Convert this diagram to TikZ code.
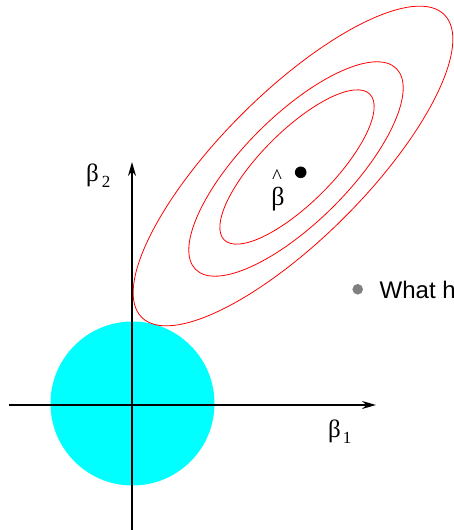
\documentclass[tikz,border=0pt]{standalone}
\usepackage{fontspec}
\setmainfont{Liberation Serif}
\newfontfamily\sansfont{Liberation Sans}
\usetikzlibrary{arrows.meta}
\definecolor{ballcyan}{RGB}{0,255,255}
\definecolor{contourred}{RGB}{255,0,0}
\definecolor{bulletgray}{RGB}{128,128,128}

\begin{document}
\begin{tikzpicture}[
  x=1pt,y=1pt,
  every node/.style={inner sep=0pt},
  axis/.style={-{Stealth[length=14pt,width=8pt]},line width=1.8pt},
  contour/.style={draw=contourred,line width=0.8pt},
  greek/.style={font=\fontsize{25}{30}\selectfont},
  bulletdot/.style={circle,fill=bulletgray,minimum size=10.6pt},
  estdot/.style={circle,fill=black,minimum size=11.6pt}
]
\useasboundingbox (0,0) rectangle (454,530);

% constraint region
\fill[ballcyan] (132.5,126.5) circle [radius=82];

% axes
\coordinate (orig) at (132,125);
\coordinate (xleft) at (9,125);
\coordinate (xright) at (376,125);
\coordinate (ybot) at (132,0);
\coordinate (ytop) at (132,368);
\draw[axis] (xleft) -- (xright);
\draw[axis] (ybot) -- (ytop);

% contours of the RSS
\draw[contour,rotate around={45:(293,364)}] (293,364) ellipse [x radius=214,y radius=72.7];
\draw[contour,rotate around={45:(296,361)}] (296,361) ellipse [x radius=142,y radius=53];
\draw[contour,rotate around={45:(297,363)}] (297,363) ellipse [x radius=103,y radius=36];

% labels
\node[estdot] (est) at (300.7,357.7) {};
\node[font=\fontsize{26}{30}\selectfont,anchor=base] (estbeta) at (278,324.3) {β};
\node[font=\fontsize{21}{24}\selectfont,anchor=base] (esthat) at (277,346.5) {\char94};
\node[greek,anchor=base west] (b2) at (86,348.5) {β\kern3pt\raisebox{-6.5pt}{\fontsize{17}{20}\selectfont 2}};
\node[greek,anchor=base west] (b1) at (328,92.5) {β\kern2pt\raisebox{-6.5pt}{\fontsize{17}{20}\selectfont 1}};

\node[bulletdot] (bul) at (357.7,240.7) {};
\node[anchor=base west,font=\sansfont\fontsize{24}{30}\selectfont] (what) at (379.5,231.7) {What h};
\end{tikzpicture}
\end{document}
